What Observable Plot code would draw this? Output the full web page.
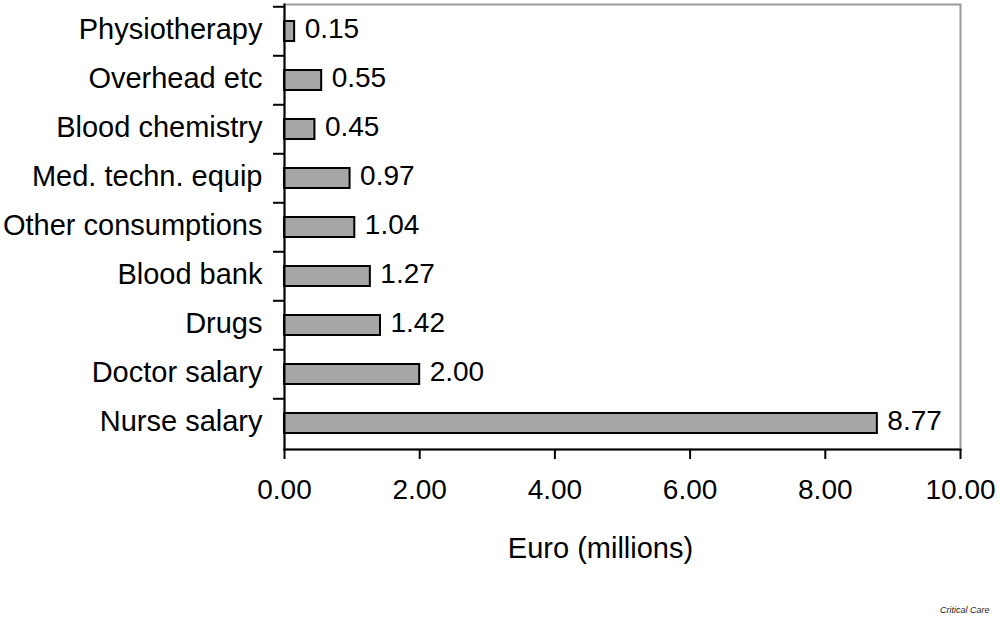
<!DOCTYPE html>
<html>
<head>
<meta charset="utf-8">
<script src="https://cdn.jsdelivr.net/npm/d3@7"></script>
<script src="https://cdn.jsdelivr.net/npm/@observablehq/plot@0.6"></script>
<style>
  html, body { margin: 0; padding: 0; background: #fff; }
  #wrap { position: relative; width: 1000px; height: 624px; overflow: hidden; }
  #credit { position: absolute; left: 940px; top: 605px; font: italic 9px "Liberation Sans", Arial, sans-serif; color: #222; }
</style>
</head>
<body>
<div id="wrap">
  <div id="chart"></div>
  <div id="credit">Critical Care</div>
</div>
<script>
const categories = ["Physiotherapy", "Overhead etc", "Blood chemistry", "Med. techn. equip", "Other consumptions", "Blood bank", "Drugs", "Doctor salary", "Nurse salary"];
const values = [0.15, 0.55, 0.45, 0.97, 1.04, 1.27, 1.42, 2.00, 8.77];
const xTicks = [0, 2, 4, 6, 8, 10];
const xLabel = "Euro (millions)";

const data = categories.map((c, i) => ({cat: c, value: values[i]}));

const marginTop = 4, marginBottom = 175, H = 624;
const step = (H - marginTop - marginBottom) / categories.length;

const chart = Plot.plot({
  width: 1000,
  height: H,
  marginLeft: 284,
  marginRight: 40,
  marginTop,
  marginBottom,
  style: {fontFamily: "'Liberation Sans', Arial, sans-serif", fontSize: "28px", background: "#fff", color: "#000"},
  x: {domain: [0, 10]},
  y: {domain: categories, paddingInner: 0.6, paddingOuter: 0.3},
  marks: [
    Plot.frame({stroke: "#999", strokeWidth: 2}),
    Plot.barX(data, {x: "value", y: "cat", fill: "#a6a6a6", stroke: "#000", strokeWidth: 2}),
    Plot.text(data, {x: "value", y: "cat", text: d => d.value.toFixed(2), textAnchor: "start", dx: 10, dy: -2, fill: "#000", fontSize: 28}),
    Plot.frame({anchor: "bottom", stroke: "#000", strokeWidth: 2}),
    Plot.frame({anchor: "left", stroke: "#000", strokeWidth: 2}),
    Plot.axisX({ticks: xTicks, tickFormat: d => d.toFixed(2), tickSize: 10, tickPadding: 20, label: null, strokeWidth: 2, fontSize: 28}),
    Plot.axisY({tickSize: 0, tickPadding: 22, label: null, fontSize: 29, dy: -2}),
    Plot.axisY({text: null, tickSize: 11, label: null, strokeWidth: 2, dy: -step / 2}),
    Plot.text([xLabel], {frameAnchor: "bottom", text: d => d, dy: 99, dx: -22, fontSize: 29, fill: "#000", lineAnchor: "middle"})
  ]
});
document.getElementById("chart").appendChild(chart);
</script>
</body>
</html>
